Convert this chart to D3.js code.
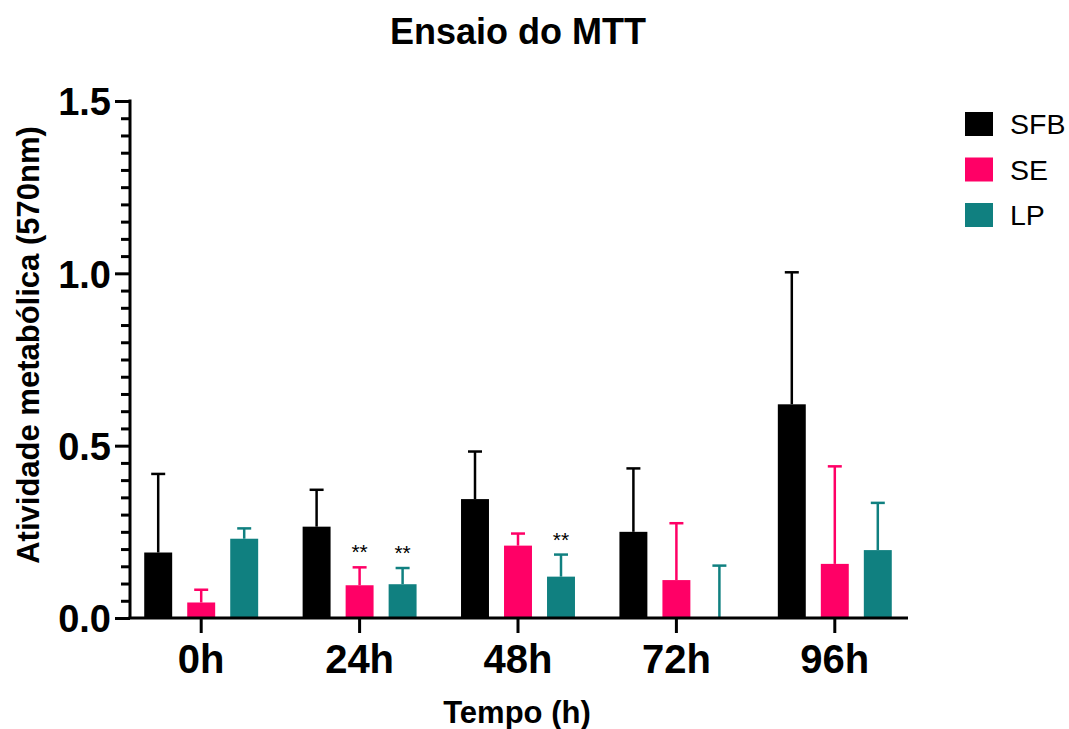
<!DOCTYPE html>
<html>
<head>
<meta charset="utf-8">
<script src="https://cdn.jsdelivr.net/npm/d3@7"></script>
<style>
  body { margin: 0; background: #fff; }
  text { font-family: Arial, "Liberation Sans", Helvetica, sans-serif; }
</style>
</head>
<body>
<script>
const categories = ['0h', '24h', '48h', '72h', '96h'];
const series = ['SFB', 'SE', 'LP'];
const colors = ['#000000', '#ff0066', '#108080'];

// mean values per series, one per time point
const sfb = [0.19, 0.265, 0.345, 0.25, 0.62];
const se = [0.045, 0.095, 0.21, 0.11, 0.157];
const lp = [0.23, 0.098, 0.12, 0.0, 0.197];

// top of the (upper-only) error bar
const sfbErr = [0.418, 0.372, 0.483, 0.434, 1.003];
const seErr = [0.082, 0.147, 0.245, 0.275, 0.44];
const lpErr = [0.26, 0.145, 0.184, 0.152, 0.334];

const yMajor = [0, 0.5, 1.0, 1.5];

// significance marks
const marks = [
  { cat: '24h', s: 'SE', label: '**' },
  { cat: '24h', s: 'LP', label: '**' },
  { cat: '48h', s: 'LP', label: '**' }
];

const means = [sfb, se, lp];
const errs = [sfbErr, seErr, lpErr];

const width = 1069, height = 729;

const svg = d3.select('body')
  .append('svg')
  .attr('width', width)
  .attr('height', height);

const y = d3.scaleLinear().domain([0, 1.5]).range([618, 101]);
const x = d3.scaleBand().domain(categories).range([122, 914]);
const xs = d3.scaleBand().domain(series).range([-64.5, 64.5])
  .paddingInner(0.35).paddingOuter(0.175);

const bars = [];
series.forEach((s, i) => {
  categories.forEach((c, j) => {
    bars.push({ s: s, c: c, v: means[i][j], e: errs[i][j], color: colors[i] });
  });
});

const cx = d => x(d.c) + x.bandwidth() / 2 + xs(d.s) + xs.bandwidth() / 2;

// error bars (upper only)
const eb = svg.append('g');
eb.selectAll('line.v')
  .data(bars)
  .join('line')
  .attr('x1', cx).attr('x2', cx)
  .attr('y1', d => y(d.v)).attr('y2', d => y(d.e))
  .attr('stroke', d => d.color)
  .attr('stroke-width', 2.5);
eb.selectAll('line.cap')
  .data(bars)
  .join('line')
  .attr('x1', d => cx(d) - 7).attr('x2', d => cx(d) + 7)
  .attr('y1', d => y(d.e)).attr('y2', d => y(d.e))
  .attr('stroke', d => d.color)
  .attr('stroke-width', 2.5);

svg.append('g')
  .selectAll('rect')
  .data(bars)
  .join('rect')
  .attr('x', d => cx(d) - xs.bandwidth() / 2)
  .attr('y', d => y(d.v))
  .attr('width', xs.bandwidth())
  .attr('height', d => y(0) - y(d.v))
  .attr('fill', d => d.color);

// asterisks
svg.append('g')
  .selectAll('text')
  .data(marks)
  .join('text')
  .attr('x', d => x(d.cat) + x.bandwidth() / 2 + xs(d.s) + xs.bandwidth() / 2)
  .attr('y', d => {
    const i = series.indexOf(d.s), j = categories.indexOf(d.cat);
    return y(errs[i][j]) - 8;
  })
  .attr('text-anchor', 'middle')
  .attr('font-size', 21)
  .text(d => d.label);

// y axis: minor ticks then major ticks
const minor = d3.range(0, 1.5001, 0.05).filter(v => Math.abs(v * 2 - Math.round(v * 2)) > 1e-6);
const yMinor = svg.append('g')
  .attr('transform', 'translate(130,0)')
  .call(d3.axisLeft(y).tickValues(minor).tickSize(9).tickFormat(''));
yMinor.select('.domain').remove();
yMinor.selectAll('line').attr('stroke-width', 3);

const yAxis = svg.append('g')
  .attr('transform', 'translate(130,0)')
  .call(d3.axisLeft(y).tickValues(yMajor).tickSize(15).tickSizeOuter(0)
    .tickPadding(4).tickFormat(d3.format('.1f')));
yAxis.select('.domain').attr('stroke-width', 3).attr('d', 'M0,' + (y(1.5) - 1.5) + 'V' + y(0));
yAxis.selectAll('line').attr('stroke-width', 3);
yAxis.selectAll('text')
  .attr('font-size', 38)
  .attr('font-weight', 'bold')
  .attr('fill', '#000')
  .attr('dy', '0.36em');

// x axis
const xAxis = svg.append('g')
  .attr('transform', 'translate(0,618)')
  .call(d3.axisBottom(x).tickSize(15).tickSizeOuter(0).tickPadding(11));
xAxis.select('.domain').attr('stroke-width', 3).attr('d', 'M128.5,0H908');
xAxis.selectAll('line').attr('stroke-width', 3);
xAxis.selectAll('text')
  .attr('font-size', 40)
  .attr('font-weight', 'bold')
  .attr('fill', '#000')
  .attr('dy', '0.72em');

// titles
svg.append('text')
  .attr('x', 518).attr('y', 44)
  .attr('text-anchor', 'middle')
  .attr('font-size', 36)
  .attr('font-weight', 'bold')
  .text('Ensaio do MTT');

svg.append('text')
  .attr('x', 517).attr('y', 723)
  .attr('text-anchor', 'middle')
  .attr('font-size', 31)
  .attr('font-weight', 'bold')
  .text('Tempo (h)');

svg.append('text')
  .attr('transform', 'translate(39,345) rotate(-90)')
  .attr('text-anchor', 'middle')
  .attr('font-size', 31)
  .attr('font-weight', 'bold')
  .text('Atividade metabólica (570nm)');

// legend
const legend = svg.append('g')
  .selectAll('g')
  .data(series)
  .join('g')
  .attr('transform', (d, i) => 'translate(965,' + (112 + i * 45.5) + ')');
legend.append('rect')
  .attr('width', 28).attr('height', 24)
  .attr('fill', (d, i) => colors[i]);
legend.append('text')
  .attr('x', 45).attr('y', 12)
  .attr('dy', '0.36em')
  .attr('font-size', 28.5)
  .text(d => d);
</script>
</body>
</html>
